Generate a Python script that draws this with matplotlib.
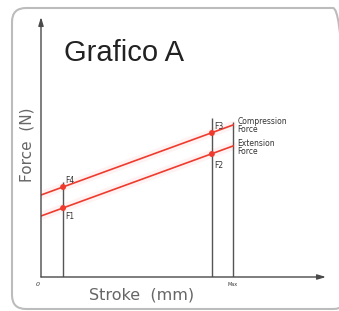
import matplotlib
matplotlib.use("Agg")
import matplotlib.pyplot as plt
from matplotlib.patches import FancyBboxPatch
from matplotlib.transforms import Affine2D

# Data (stroke in % of Max, force in arbitrary units)
stroke_line = [0, 100]
extension_force = [61, 131]
compression_force = [82, 152]
point_strokes = [11.5, 11.5, 89, 89]
point_forces = [69, 90, 123, 144]
point_labels = ["F1", "F4", "F2", "F3"]
vline_strokes = [11.5, 89, 100]
vline_tops = [95, 159, 155]

W, H = 339, 311
fig = plt.figure(figsize=(W / 100, H / 100), dpi=100)
fig.patch.set_facecolor("white")

# rounded border in pixel coordinates (y from bottom)
pix = Affine2D().scale(1 / W, 1 / H) + fig.transFigure
border = FancyBboxPatch((12, 2), 335, 301,
                        boxstyle="round,pad=0,rounding_size=14",
                        transform=pix, fill=False,
                        edgecolor="#bcbcbc", linewidth=1.5)
fig.patches.append(border)

x0, y0, x1, y1 = 41, 277, 326, 17
ax = fig.add_axes([x0 / W, (H - y0) / H, (x1 - x0) / W, (y0 - y1) / H])
ax.set_xlim(0, (x1 - x0) / 1.92)
ax.set_ylim(0, y0 - y1)
ax.axis("off")

axcol = "#4a4a4a"
ax.annotate("", xy=(1, 0), xytext=(0, 0), xycoords="axes fraction",
            arrowprops=dict(arrowstyle="-|>,head_length=0.5,head_width=0.15", color=axcol, lw=1.0,
                            shrinkA=0, shrinkB=0))
ax.annotate("", xy=(0, 1), xytext=(0, 0), xycoords="axes fraction",
            arrowprops=dict(arrowstyle="-|>,head_length=0.5,head_width=0.15", color=axcol, lw=1.0,
                            shrinkA=0, shrinkB=0))

for xs, top in zip(vline_strokes, vline_tops):
    ax.plot([xs, xs], [0, top], color="#555555", lw=1.0, solid_capstyle="butt")

red = "#ee3b2e"
for f in (extension_force, compression_force):
    ax.plot(stroke_line, f, color=red, lw=6, alpha=0.06, solid_capstyle="round")
    ax.plot(stroke_line, f, color=red, lw=1.2)
ax.scatter(point_strokes, point_forces, s=18, color=red, zorder=5, edgecolors="none")

offsets = {"F1": (2, -11), "F4": (2, 4), "F2": (2, -14), "F3": (2, 4)}
for xs, fv, lab in zip(point_strokes, point_forces, point_labels):
    dx, dy = offsets[lab]
    ax.annotate(lab, (xs, fv), xytext=(dx * 0.72, dy * 0.72), textcoords="offset points",
                fontsize=5.5, color="#333333", family="DejaVu Sans")

ax.annotate("Compression\nForce", (100, 160), xytext=(3, 0), textcoords="offset points",
            fontsize=5.5, color="#333333", va="top", linespacing=0.85)
ax.annotate("Extension\nForce", (100, 138), xytext=(3, 0), textcoords="offset points",
            fontsize=5.5, color="#333333", va="top", linespacing=0.85)

ax.text(-1.5, -5, "0", fontsize=4.5, color="#333333", ha="center", va="top", style="italic")
ax.text(100, -5, "Max", fontsize=3.5, color="#333333", ha="center", va="top")

fig.text(142 / W, 1 - 295 / H, "Stroke  (mm)", fontsize=11.5, color="#666666",
         ha="center", va="center")
fig.text(27 / W, 1 - 145 / H, "Force  (N)", fontsize=11, color="#666666",
         ha="center", va="center", rotation=90)
fig.text(64 / W, 1 - 53 / H, "Grafico A", fontsize=21, color="#222222",
         ha="left", va="center", family="Liberation Sans")

fig.savefig("out.png", dpi=100)
